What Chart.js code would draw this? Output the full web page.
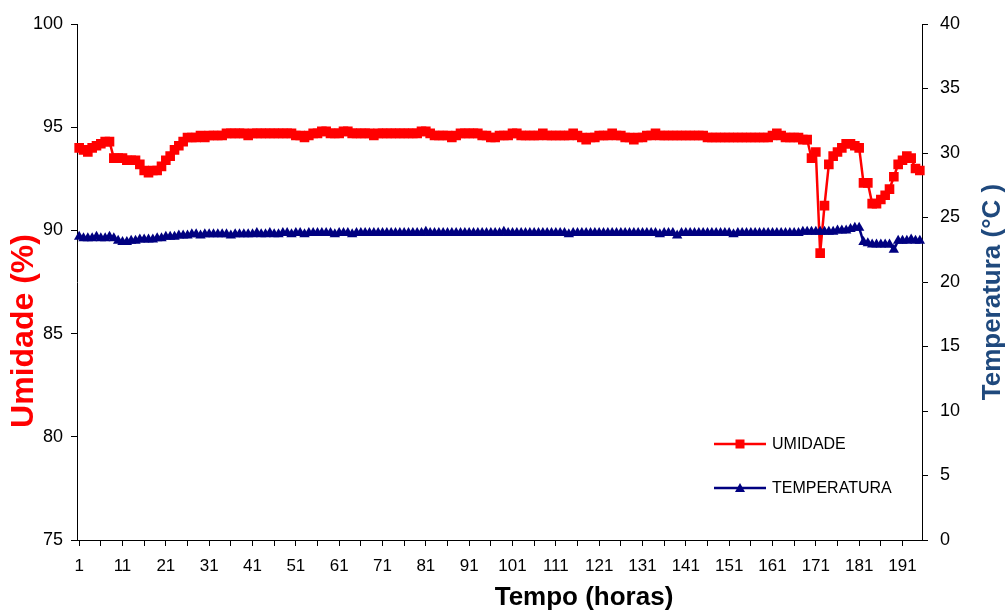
<!DOCTYPE html>
<html>
<head>
<meta charset="utf-8">
<script src="https://cdn.jsdelivr.net/npm/chart.js@4/dist/chart.umd.min.js"></script>
<style>
  html, body { margin: 0; background: #fff; }
</style>
</head>
<body>
<canvas id="chart" width="1008" height="612"></canvas>
<script>
// ── Data ─────────────────────────────────────────────────────
const hours = Array.from({ length: 195 }, (_, i) => String(i + 1));
const xTickLabels = ['1','11','21','31','41','51','61','71','81','91','101','111','121','131','141','151','161','171','181','191'];

const umidade = [
  94.0, 93.9, 93.8, 94.0, 94.1, 94.2, 94.3, 94.3, 93.5, 93.5,
  93.5, 93.4, 93.4, 93.4, 93.2, 92.9, 92.8, 92.9, 92.9, 93.1,
  93.4, 93.6, 93.9, 94.1, 94.3, 94.5, 94.5, 94.5, 94.6, 94.5,
  94.6, 94.6, 94.6, 94.6, 94.7, 94.7, 94.7, 94.7, 94.7, 94.6,
  94.7, 94.7, 94.7, 94.7, 94.7, 94.7, 94.7, 94.7, 94.7, 94.7,
  94.6, 94.6, 94.5, 94.6, 94.7, 94.7, 94.8, 94.8, 94.7, 94.7,
  94.7, 94.8, 94.8, 94.7, 94.7, 94.7, 94.7, 94.7, 94.6, 94.7,
  94.7, 94.7, 94.7, 94.7, 94.7, 94.7, 94.7, 94.7, 94.7, 94.8,
  94.8, 94.7, 94.6, 94.6, 94.6, 94.6, 94.5, 94.6, 94.7, 94.7,
  94.7, 94.7, 94.7, 94.6, 94.6, 94.5, 94.5, 94.6, 94.6, 94.6,
  94.7, 94.7, 94.6, 94.6, 94.6, 94.6, 94.6, 94.7, 94.6, 94.6,
  94.6, 94.6, 94.6, 94.6, 94.7, 94.6, 94.5, 94.4, 94.5, 94.5,
  94.6, 94.6, 94.6, 94.7, 94.6, 94.6, 94.5, 94.5, 94.4, 94.5,
  94.5, 94.6, 94.6, 94.7, 94.6, 94.6, 94.6, 94.6, 94.6, 94.6,
  94.6, 94.6, 94.6, 94.6, 94.6, 94.5, 94.5, 94.5, 94.5, 94.5,
  94.5, 94.5, 94.5, 94.5, 94.5, 94.5, 94.5, 94.5, 94.5, 94.5,
  94.6, 94.7, 94.6, 94.5, 94.5, 94.5, 94.5, 94.4, 94.4, 93.5,
  93.8, 88.9, 91.2, 93.2, 93.6, 93.8, 94.0, 94.2, 94.2, 94.1,
  94.0, 92.3, 92.3, 91.3, 91.3, 91.5, 91.7, 92.0, 92.6, 93.2,
  93.4, 93.6, 93.5, 93.0, 92.9
];

const temperatura = [
  23.5, 23.4, 23.4, 23.4, 23.5, 23.4, 23.4, 23.5, 23.4, 23.2,
  23.1, 23.1, 23.2, 23.2, 23.3, 23.3, 23.3, 23.3, 23.4, 23.4,
  23.5, 23.5, 23.5, 23.6, 23.6, 23.6, 23.7, 23.7, 23.6, 23.7,
  23.7, 23.7, 23.7, 23.7, 23.7, 23.6, 23.7, 23.7, 23.7, 23.7,
  23.7, 23.8, 23.7, 23.7, 23.8, 23.7, 23.7, 23.8, 23.8, 23.7,
  23.8, 23.8, 23.7, 23.8, 23.8, 23.8, 23.8, 23.8, 23.8, 23.7,
  23.8, 23.8, 23.8, 23.7, 23.8, 23.8, 23.8, 23.8, 23.8, 23.8,
  23.8, 23.8, 23.8, 23.8, 23.8, 23.8, 23.8, 23.8, 23.8, 23.8,
  23.9, 23.8, 23.8, 23.8, 23.8, 23.8, 23.8, 23.8, 23.8, 23.8,
  23.8, 23.8, 23.8, 23.8, 23.8, 23.8, 23.8, 23.8, 23.9, 23.8,
  23.8, 23.8, 23.8, 23.8, 23.8, 23.8, 23.8, 23.8, 23.8, 23.8,
  23.8, 23.8, 23.8, 23.7, 23.8, 23.8, 23.8, 23.8, 23.8, 23.8,
  23.8, 23.8, 23.8, 23.8, 23.8, 23.8, 23.8, 23.8, 23.8, 23.8,
  23.8, 23.8, 23.8, 23.8, 23.7, 23.8, 23.8, 23.8, 23.6, 23.8,
  23.8, 23.8, 23.8, 23.8, 23.8, 23.8, 23.8, 23.8, 23.8, 23.8,
  23.8, 23.7, 23.8, 23.8, 23.8, 23.8, 23.8, 23.8, 23.8, 23.8,
  23.8, 23.8, 23.8, 23.8, 23.8, 23.8, 23.8, 23.9, 23.9, 23.9,
  23.9, 23.9, 23.9, 23.9, 23.9, 24.0, 24.0, 24.0, 24.1, 24.2,
  24.2, 23.1, 23.0, 22.9, 22.9, 22.9, 22.9, 22.9, 22.5, 23.2,
  23.2, 23.2, 23.3, 23.2, 23.2
];

const RED  = '#FF0000';
const NAVY = '#000080';
const TITLE_BLUE = '#1F497D';
const FONT = 'Arial, "Liberation Sans", sans-serif';

// ── Titles + legend (drawn inside the plot like the original) ─
const overlay = {
  id: 'overlay',
  afterDraw(chart) {
    const { ctx, chartArea: a } = chart;
    ctx.save();
    ctx.textAlign = 'center';
    ctx.textBaseline = 'middle';

    ctx.font = 'bold 26px ' + FONT;
    ctx.fillStyle = '#000';
    ctx.fillText('Tempo (horas)', a.left + 507, 598);

    ctx.save();
    ctx.font = 'bold 32px ' + FONT;
    ctx.fillStyle = RED;
    ctx.translate(24, a.top + 307);
    ctx.rotate(-Math.PI / 2);
    ctx.fillText('Umidade (%)', 0, 0);
    ctx.restore();

    ctx.save();
    ctx.font = 'bold 26px ' + FONT;
    ctx.fillStyle = TITLE_BLUE;
    ctx.translate(993, a.top + 268);
    ctx.rotate(-Math.PI / 2);
    ctx.fillText('Temperatura (°C )', 0, 0);
    ctx.restore();

    // legend
    const lx = a.left + 637, ly = a.top + 420;
    const items = [
      { label: 'UMIDADE', color: RED, shape: 'rect' },
      { label: 'TEMPERATURA', color: NAVY, shape: 'tri' }
    ];
    ctx.font = '16px ' + FONT;
    ctx.textAlign = 'left';
    items.forEach((it, i) => {
      const y = ly + i * 44;
      ctx.strokeStyle = it.color; ctx.lineWidth = 2.5;
      ctx.beginPath(); ctx.moveTo(lx, y); ctx.lineTo(lx + 52, y); ctx.stroke();
      ctx.fillStyle = it.color;
      const cx = lx + 26;
      if (it.shape === 'rect') ctx.fillRect(cx - 4.5, y - 4.5, 9, 9);
      else { ctx.beginPath(); ctx.moveTo(cx, y - 5); ctx.lineTo(cx + 5, y + 4); ctx.lineTo(cx - 5, y + 4); ctx.closePath(); ctx.fill(); }
      ctx.fillStyle = '#000';
      ctx.fillText(it.label, lx + 58, y + 1);
    });
    ctx.restore();
  }
};

new Chart(document.getElementById('chart'), {
  type: 'line',
  data: {
    labels: hours,
    datasets: [
      {
        label: 'UMIDADE', data: umidade, yAxisID: 'y', order: 1,
        borderColor: RED, backgroundColor: RED, borderWidth: 2.5,
        pointStyle: 'rect', pointRadius: 6.8, pointBorderWidth: 0,
        pointBackgroundColor: RED, tension: 0
      },
      {
        label: 'TEMPERATURA', data: temperatura, yAxisID: 'y2', order: 0,
        borderColor: NAVY, backgroundColor: NAVY, borderWidth: 2.5,
        pointStyle: 'triangle', pointRadius: 6, pointBorderWidth: 0,
        pointBackgroundColor: NAVY, tension: 0
      }
    ]
  },
  options: {
    responsive: false,
    animation: false,
    layout: { padding: { top: 24, left: 0, right: 0, bottom: 0 } },
    plugins: { legend: { display: false }, tooltip: { enabled: false } },
    scales: {
      x: {
        type: 'category', offset: true,
        grid: {
          offset: false, drawOnChartArea: false, tickLength: 6,
          tickColor: c => (c.index % 5 === 0 ? '#000' : 'rgba(0,0,0,0)')
        },
        border: { display: true, color: '#000', width: 1 },
        ticks: {
          autoSkip: false, maxRotation: 0, minRotation: 0, padding: 10,
          color: '#000', font: { size: 17, family: FONT },
          callback(v) { const l = this.getLabelForValue(v); return xTickLabels.includes(l) ? l : ''; }
        },
        afterFit(s) { s.height = 72; }
      },
      y: {
        position: 'left', min: 75, max: 100,
        grid: { drawOnChartArea: false, tickLength: 6, tickColor: '#000' },
        border: { display: true, color: '#000', width: 1 },
        ticks: { stepSize: 5, padding: 8, color: '#000', font: { size: 18, family: FONT } },
        afterFit(s) { s.width = 77; }
      },
      y2: {
        position: 'right', min: 0, max: 40,
        grid: { drawOnChartArea: false, tickLength: 6, tickColor: '#000' },
        border: { display: true, color: '#000', width: 1 },
        ticks: { stepSize: 5, padding: 12, color: '#000', font: { size: 18, family: FONT } },
        afterFit(s) { s.width = 86; }
      }
    }
  },
  plugins: [overlay]
});
</script>
</body>
</html>
